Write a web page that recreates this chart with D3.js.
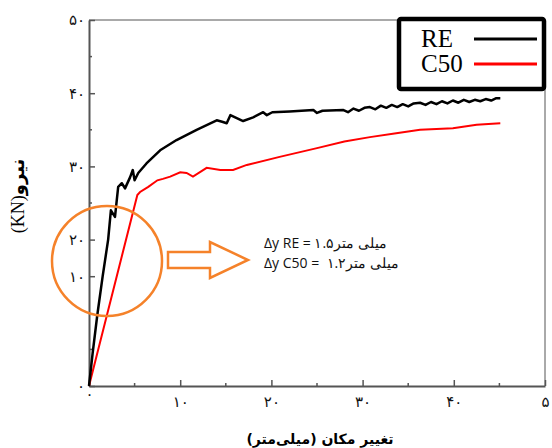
<!DOCTYPE html>
<html>
<head>
<meta charset="utf-8">
<script src="https://cdn.jsdelivr.net/npm/d3@7"></script>
<style>
  body { margin: 0; background: #fff; }
  svg { display: block; }
</style>
</head>
<body>
<div id="chart"></div>
<script>
// displacement (mm) vs force (kN)
const reX = [0, 0.4, 0.9, 1.5, 2.1, 2.4, 2.85, 3.2, 3.6, 3.95, 4.5, 4.8, 5.0, 5.4, 6.3, 7.8, 9.6, 11.8, 14.0, 14.6, 15.1, 15.5, 16.2, 16.9, 18.0, 19.1, 19.5, 20.1, 22.0, 24.6, 25.0, 25.6, 27.9, 28.4, 29.0, 29.6, 30.2, 30.8, 31.4, 32.0, 32.6, 33.2, 33.8, 34.4, 35.0, 35.6, 36.3, 36.9, 37.5, 38.1, 38.7, 39.3, 39.9, 40.5, 41.1, 41.7, 42.3, 42.9, 43.5, 44.1, 44.6, 45.1];
const reY = [0, 4.5, 9.6, 15.0, 20.0, 24.0, 23.1, 27.2, 27.7, 27.0, 28.5, 29.5, 28.1, 29.1, 30.4, 32.2, 33.6, 35.0, 36.3, 36.1, 35.9, 37.0, 36.6, 36.2, 36.7, 37.4, 37.0, 37.4, 37.5, 37.7, 37.3, 37.6, 37.7, 37.4, 37.9, 37.6, 38.0, 38.1, 37.8, 38.3, 38.0, 38.4, 38.1, 38.5, 38.2, 38.6, 38.7, 38.4, 38.8, 38.5, 38.9, 38.6, 39.0, 38.7, 39.1, 38.8, 39.1, 38.9, 39.2, 39.0, 39.3, 39.3];
const c50X = [0, 5.3, 5.6, 6.5, 7.5, 8.1, 8.9, 10.0, 10.7, 11.4, 12.9, 14.4, 15.8, 17.3, 20.9, 25.0, 28.0, 30.8, 33.5, 36.3, 39.9, 42.5, 45.1];
const c50Y = [0, 26.1, 26.5, 27.2, 28.1, 28.3, 28.6, 29.2, 29.1, 28.6, 29.8, 29.5, 29.5, 30.2, 31.3, 32.5, 33.4, 34.0, 34.5, 35.0, 35.2, 35.7, 35.9];

const xTickValues = [0, 10, 20, 30, 40, 50];
const xTickLabels = ["۰", "۱۰", "۲۰", "۳۰", "۴۰", "۵۰"];
const xMinorTicks = [5, 15, 25, 35, 45];
const yTickValues = [0, 15, 20, 30, 40, 50];
const yTickLabels = ["۰", "۱۰", "۲۰", "۳۰", "۴۰", "۵۰"];
const yMinorTicks = [5, 25, 35, 45];

const seriesNames = ["RE", "C50"];
const seriesColors = ["#000000", "#ff0000"];

const width = 552, height = 448;
const margin = { left: 89, right: 7, top: 20, bottom: 62 };

const svg = d3.select("#chart").append("svg")
  .attr("width", width)
  .attr("height", height);

const x = d3.scaleLinear().domain([0, 50]).range([margin.left, width - margin.right]);
const y = d3.scaleLinear().domain([0, 50]).range([height - margin.bottom, margin.top]);

// frame (top + right)
svg.append("path")
  .attr("d", `M${x(0)},${y(50)}H${x(50)}V${y(0)}`)
  .attr("fill", "none")
  .attr("stroke", "#555")
  .attr("stroke-width", 1);

// x axis
const xAxis = svg.append("g")
  .attr("transform", `translate(0,${y(0)})`)
  .call(d3.axisBottom(x).tickValues(xTickValues).tickSizeInner(-6).tickSizeOuter(0)
    .tickFormat((d, i) => xTickLabels[i]));
xAxis.select(".domain").attr("stroke", "#555").attr("stroke-width", 2);
xAxis.selectAll(".tick line").attr("stroke", "#555").attr("stroke-width", 1.5);
xAxis.selectAll(".tick text")
  .attr("y", 10)
  .attr("font-family", "DejaVu Sans")
  .attr("font-size", 15)
  .attr("fill", "#111");
xAxis.selectAll(".tick").filter(d => d === 0).select("text").attr("y", 2);
xAxis.selectAll(".tick").filter(d => d === 50).select("text").attr("text-anchor", "start").attr("x", -4);

svg.append("g").selectAll("line")
  .data(xMinorTicks)
  .join("line")
  .attr("x1", d => x(d)).attr("x2", d => x(d))
  .attr("y1", y(0)).attr("y2", y(0) - 3)
  .attr("stroke", "#555").attr("stroke-width", 1.5);

// y axis
const yAxis = svg.append("g")
  .attr("transform", `translate(${x(0)},0)`)
  .call(d3.axisLeft(y).tickValues(yTickValues).tickSizeInner(-6).tickSizeOuter(0)
    .tickFormat((d, i) => yTickLabels[i]));
yAxis.select(".domain").attr("stroke", "#555").attr("stroke-width", 2);
yAxis.selectAll(".tick line").attr("stroke", "#555").attr("stroke-width", 1.5);
yAxis.selectAll(".tick text")
  .attr("x", -4)
  .attr("font-family", "DejaVu Sans")
  .attr("font-size", 15)
  .attr("fill", "#111");

svg.append("g").selectAll("line")
  .data(yMinorTicks)
  .join("line")
  .attr("x1", x(0)).attr("x2", x(0) + 3)
  .attr("y1", d => y(d)).attr("y2", d => y(d))
  .attr("stroke", "#555").attr("stroke-width", 1.5);

// curves
const line = d3.line().x(d => x(d[0])).y(d => y(d[1]));
svg.append("path")
  .datum(c50X.map((v, i) => [v, c50Y[i]]))
  .attr("d", line)
  .attr("fill", "none")
  .attr("stroke", seriesColors[1])
  .attr("stroke-width", 2);
svg.append("path")
  .datum(reX.map((v, i) => [v, reY[i]]))
  .attr("d", line)
  .attr("fill", "none")
  .attr("stroke", seriesColors[0])
  .attr("stroke-width", 2.5)
  .attr("stroke-linejoin", "round");

// legend
const legend = svg.append("g");
legend.append("rect")
  .attr("x", 399).attr("y", 19)
  .attr("width", 145).attr("height", 70)
  .attr("rx", 2)
  .attr("fill", "#fff")
  .attr("stroke", "#000")
  .attr("stroke-width", 4.5);
seriesNames.forEach((name, i) => {
  const ly = 39 + i * 25;
  legend.append("text")
    .attr("x", 421).attr("y", ly + 8)
    .attr("font-family", "Liberation Serif")
    .attr("font-size", 25)
    .text(name);
  legend.append("line")
    .attr("x1", 474).attr("x2", 537)
    .attr("y1", ly).attr("y2", ly)
    .attr("stroke", seriesColors[i])
    .attr("stroke-width", 3);
});

// axis titles
svg.append("text")
  .attr("x", 320).attr("y", 444)
  .attr("text-anchor", "middle")
  .attr("font-family", "DejaVu Sans")
  .attr("font-weight", "bold")
  .attr("font-size", 14)
  .text("تغییر مکان (میلی‌متر)");

const yTitle = svg.append("text")
  .attr("transform", "translate(24,196) rotate(-90)")
  .attr("text-anchor", "middle")
  .attr("font-size", 18);
yTitle.append("tspan")
  .attr("font-family", "Liberation Serif")
  .text("(KN)");
yTitle.append("tspan")
  .attr("font-family", "DejaVu Sans")
  .attr("font-weight", "bold")
  .text("نیرو");

// annotation: circle, arrow, text
svg.append("circle")
  .attr("cx", 107).attr("cy", 261).attr("r", 55)
  .attr("fill", "none")
  .attr("stroke", "#f5822a")
  .attr("stroke-width", 2.5);

svg.append("path")
  .attr("d", "M168,252H210V242L248,260L210,278V268H168Z")
  .attr("fill", "#fff")
  .attr("stroke", "#f5822a")
  .attr("stroke-width", 2.5)
  .attr("stroke-linejoin", "miter");

const notes = ["Δy RE = ۱.۵میلی متر", "Δy C50 =  ۱.۲میلی متر"];
svg.append("g").selectAll("text")
  .data(notes)
  .join("text")
  .attr("x", 264)
  .attr("y", (d, i) => 248 + i * 20)
  .attr("font-family", "Open Sans")
  .attr("font-size", 14)
  .attr("fill", "#111")
  .style("white-space", "pre")
  .text(d => d);
</script>
</body>
</html>
